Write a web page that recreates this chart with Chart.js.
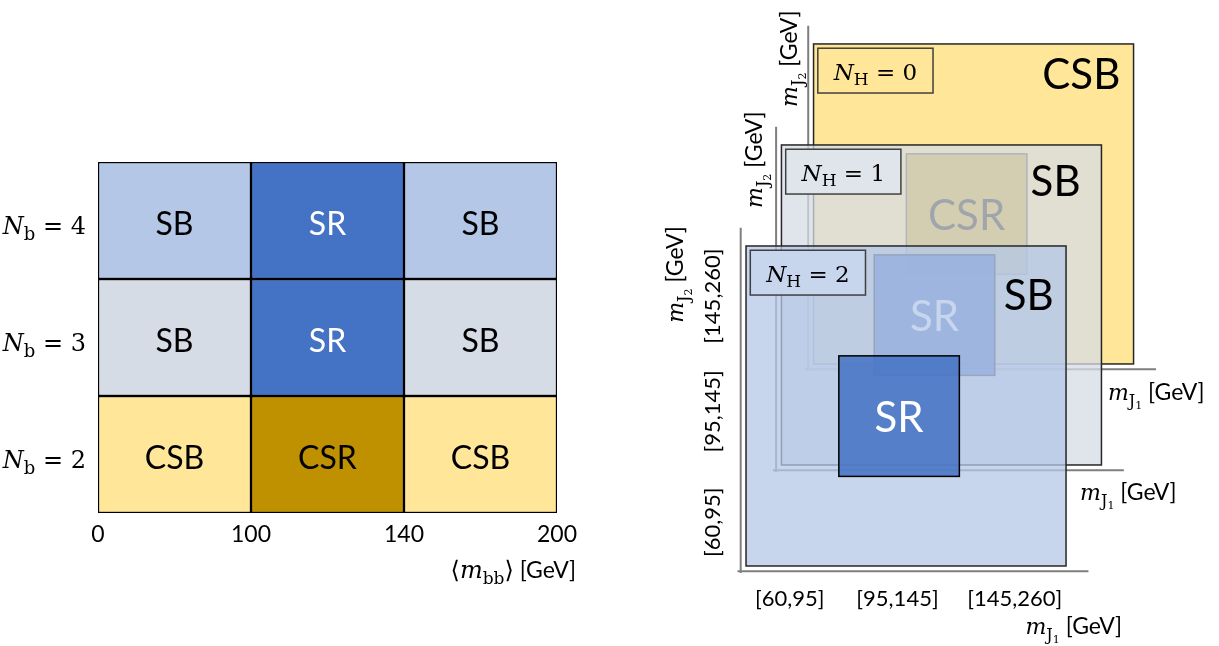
<!DOCTYPE html>
<html>
<head>
<meta charset="utf-8">
<script src="https://cdn.jsdelivr.net/npm/chart.js@4.4.0/dist/chart.umd.min.js"></script>
<style>
  html, body { margin: 0; padding: 0; background: #fff; }
  #wrap { position: relative; width: 1219px; height: 646px; }
  #left { position: absolute; left: 0; top: 0; width: 600px; height: 646px; }
  #right { position: absolute; left: 600px; top: 0; width: 619px; height: 646px; }
</style>
</head>
<body>
<div id="wrap">
  <div id="left"><canvas id="gridChart"></canvas></div>
  <div id="right"><canvas id="planeChart"></canvas></div>
</div>
<script>
// ---- left panel: <m_bb> windows vs number of b tags
const massEdges = ['0', '100', '140', '200'];
const bTagRows = ['4', '3', '2'];
const regionGrid = [
    ['SB', 'SR', 'SB'],
    ['SB', 'SR', 'SB'],
    ['CSB', 'CSR', 'CSB']
];
const windowWidth = [1, 1, 1]; // every mass window is drawn one unit wide

// ---- right panel: m_J1 vs m_J2 planes, one per N_H
const higgsTags = ['0', '1', '2'];
const jetMassBins = ['[60,95]', '[95,145]', '[145,260]'];
const planeSideband = ['CSB', 'SB', 'SB'];
const planeSignal = ['CSR', 'SR', 'SR'];
const signalLow = [0.87, 0.84];  // signal box edges in jet-mass bin units (x, y)
const signalHigh = [2.0, 1.97];

// styles / layout
const cellFill = [
    ['#B4C7E7', '#4472C4', '#B4C7E7'],
    ['#D6DCE5', '#4472C4', '#D6DCE5'],
    ['#FFE699', '#BF9000', '#FFE699']
];
const planeFill = ['#FFE699', '#D6DCE5', '#B4C7E7'];
const planeAlpha = [1, 0.75, 0.75];
const tagBoxFill = ['#FFE699', '#E0E5EC', '#C7D5ED'];
const signalFill = { CSR: '#BF9000', SR: '#4472C4' };
const planeShift = [[0.633, 1.894], [0.332, 0.947], [0, 0]];
const sidebandAt = [[2.51, 2.72], [2.57, 2.66], [2.65, 2.54]];
const xTitleAt = [[2.76, -0.34], [2.8, -0.33], [2.62, -0.64]];
const yTitleAt = [[-0.155, 2.41], [-0.186, 2.41], [-0.59, 2.28]];
const xTickAt = [0.41, 1.42, 2.52];
const yTickAt = [0.41, 1.45, 2.53];

const SERIF = '"DejaVu Serif"';

function drawRuns(ctx, runs, x, y, align, angle) {
    ctx.save();
    ctx.translate(x, y);
    if (angle) ctx.rotate(angle);
    let w = 0;
    runs.forEach(r => { ctx.font = r.font; w += ctx.measureText(r.text).width; });
    let cx = align === 'right' ? -w : align === 'center' ? -w / 2 : 0;
    ctx.textAlign = 'left';
    ctx.textBaseline = 'alphabetic';
    runs.forEach(r => {
        ctx.font = r.font;
        ctx.fillStyle = r.color || '#000';
        ctx.fillText(r.text, cx, r.dy || 0);
        cx += ctx.measureText(r.text).width;
    });
    ctx.restore();
}

function jetTitle(i) {
    return [
        { text: 'm', font: 'italic 22px ' + SERIF },
        { text: 'J', font: '16px ' + SERIF, dy: 6 },
        { text: String(i), font: '11px ' + SERIF, dy: 9 },
        { text: ' [GeV]', font: '23px Lato' }
    ];
}

// ---------------- left chart
const gridLabels = {
    id: 'gridLabels',
    afterDatasetsDraw(chart) {
        const { ctx, scales: { x, y } } = chart;
        chart.data.datasets.forEach((ds, c) => {
            chart.getDatasetMeta(c).data.forEach((bar, r) => {
                const p = bar.getCenterPoint();
                const name = regionGrid[r][c];
                ctx.save();
                ctx.font = '32px Lato';
                ctx.fillStyle = name === 'SR' ? '#fff' : '#000';
                ctx.textAlign = 'center';
                ctx.textBaseline = 'alphabetic';
                ctx.fillText(name, p.x, p.y + 14.5);
                ctx.restore();
            });
        });
        bTagRows.forEach((k, r) => {
            drawRuns(ctx, [
                { text: 'N', font: 'italic 24px ' + SERIF },
                { text: 'b', font: '18px ' + SERIF, dy: 6 },
                { text: ' = ' + k, font: '24px ' + SERIF }
            ], x.left - 12, y.getPixelForValue(r) + 13, 'right');
        });
        drawRuns(ctx, [
            { text: '\u27E8', font: '24px ' + SERIF },
            { text: 'm', font: 'italic 24px ' + SERIF },
            { text: 'bb', font: '17px ' + SERIF, dy: 6 },
            { text: '\u27E9', font: '24px ' + SERIF },
            { text: ' [GeV]', font: '23px Lato' }
        ], x.right + 19, chart.chartArea.bottom + 65, 'right');
    }
};

new Chart(document.getElementById('gridChart'), {
    type: 'bar',
    data: {
        labels: bTagRows,
        datasets: massEdges.slice(1).map((edge, c) => ({
            label: edge,
            data: bTagRows.map(() => windowWidth[c]),
            backgroundColor: cellFill.map(row => row[c]),
            borderColor: '#000',
            borderWidth: 1.5,
            borderSkipped: false,
            barPercentage: 1,
            categoryPercentage: 1
        }))
    },
    options: {
        indexAxis: 'y',
        responsive: true,
        maintainAspectRatio: false,
        animation: false,
        layout: { padding: { left: 98, right: 43, top: 162, bottom: 0 } },
        plugins: { legend: { display: false }, tooltip: { enabled: false } },
        scales: {
            x: {
                type: 'linear',
                stacked: true,
                min: 0,
                max: 3,
                grid: { display: false, drawTicks: false },
                border: { display: false },
                ticks: {
                    stepSize: 1,
                    padding: 8,
                    color: '#000',
                    font: { family: 'Lato', size: 23 },
                    callback: v => massEdges[v]
                },
                afterFit: s => { s.height = 133; }
            },
            y: { stacked: true, display: false }
        }
    },
    plugins: [gridLabels]
});

// ---------------- right chart
const planes = {
    id: 'planes',
    afterDatasetsDraw(chart) {
        const { ctx, scales: { x, y } } = chart;
        higgsTags.forEach((tag, k) => {
            const [sx, sy] = planeShift[k];
            const px = v => x.getPixelForValue(v + sx);
            const py = v => y.getPixelForValue(v + sy);
            const nBins = jetMassBins.length;

            // axes
            ctx.save();
            ctx.strokeStyle = '#7f7f7f';
            ctx.lineWidth = 2;
            ctx.beginPath();
            ctx.moveTo(px(-0.05), py(3.17));
            ctx.lineTo(px(-0.05), py(-0.065));
            ctx.moveTo(px(-0.08), py(-0.05));
            ctx.lineTo(px(nBins + 0.21), py(-0.05));
            ctx.stroke();

            // plane
            const x0 = px(0), x1 = px(nBins), y0 = py(nBins), y1 = py(0);
            ctx.globalAlpha = planeAlpha[k];
            ctx.fillStyle = planeFill[k];
            ctx.fillRect(x0, y0, x1 - x0, y1 - y0);
            ctx.globalAlpha = 1;
            ctx.strokeStyle = '#262626';
            ctx.lineWidth = 1.5;
            ctx.strokeRect(x0, y0, x1 - x0, y1 - y0);

            // signal box
            const name = planeSignal[k];
            const s0 = px(signalLow[0]), s1 = px(signalHigh[0]);
            const t0 = py(signalHigh[1]), t1 = py(signalLow[1]);
            ctx.globalAlpha = 0.85;
            ctx.fillStyle = signalFill[name];
            ctx.fillRect(s0, t0, s1 - s0, t1 - t0);
            ctx.globalAlpha = 1;
            ctx.strokeStyle = k === 2 ? '#000' : '#404040';
            ctx.strokeRect(s0, t0, s1 - s0, t1 - t0);
            ctx.font = '42px Lato';
            ctx.textAlign = 'center';
            ctx.textBaseline = 'alphabetic';
            ctx.fillStyle = name === 'SR' ? '#fff' : '#000';
            ctx.fillText(name, (s0 + s1) / 2, (t0 + t1) / 2 + 16);

            // sideband label
            ctx.fillStyle = '#000';
            ctx.fillText(planeSideband[k], px(sidebandAt[k][0]), py(sidebandAt[k][1]) + 15);

            // N_H box
            const b0 = px(0.04), b1 = px(1.12), c0 = py(2.96), c1 = py(2.54);
            ctx.fillStyle = tagBoxFill[k];
            ctx.fillRect(b0, c0, b1 - b0, c1 - c0);
            ctx.strokeStyle = '#404040';
            ctx.strokeRect(b0, c0, b1 - b0, c1 - c0);
            ctx.restore();
            drawRuns(ctx, [
                { text: 'N', font: 'italic 23px ' + SERIF },
                { text: 'H', font: '17px ' + SERIF, dy: 5 },
                { text: ' = ' + tag, font: '23px ' + SERIF }
            ], (b0 + b1) / 2, (c0 + c1) / 2 + 9.5, 'center');

            // axis titles
            drawRuns(ctx, jetTitle(1), px(xTitleAt[k][0]), py(xTitleAt[k][1]), 'left');
            drawRuns(ctx, jetTitle(2), px(yTitleAt[k][0]), py(yTitleAt[k][1]), 'left', -Math.PI / 2);

            // bin labels on the front plane only
            if (k === higgsTags.length - 1) {
                ctx.save();
                ctx.font = '22px Lato';
                ctx.fillStyle = '#000';
                ctx.textAlign = 'center';
                ctx.textBaseline = 'alphabetic';
                jetMassBins.forEach((lab, i) => {
                    ctx.fillText(lab, px(xTickAt[i]), py(-0.375));
                });
                jetMassBins.forEach((lab, i) => {
                    ctx.save();
                    ctx.translate(px(-0.244), py(yTickAt[i]));
                    ctx.rotate(-Math.PI / 2);
                    ctx.fillText(lab, 0, 0);
                    ctx.restore();
                });
                ctx.restore();
            }
        });
    }
};

new Chart(document.getElementById('planeChart'), {
    type: 'scatter',
    data: { datasets: [] },
    options: {
        responsive: true,
        maintainAspectRatio: false,
        animation: false,
        layout: { padding: 0 },
        plugins: { legend: { display: false }, tooltip: { enabled: false } },
        scales: {
            x: { type: 'linear', min: -1.369, max: 4.434, display: false },
            y: { type: 'linear', min: -0.750, max: 5.306, display: false }
        }
    },
    plugins: [planes]
});
</script>
</body>
</html>
